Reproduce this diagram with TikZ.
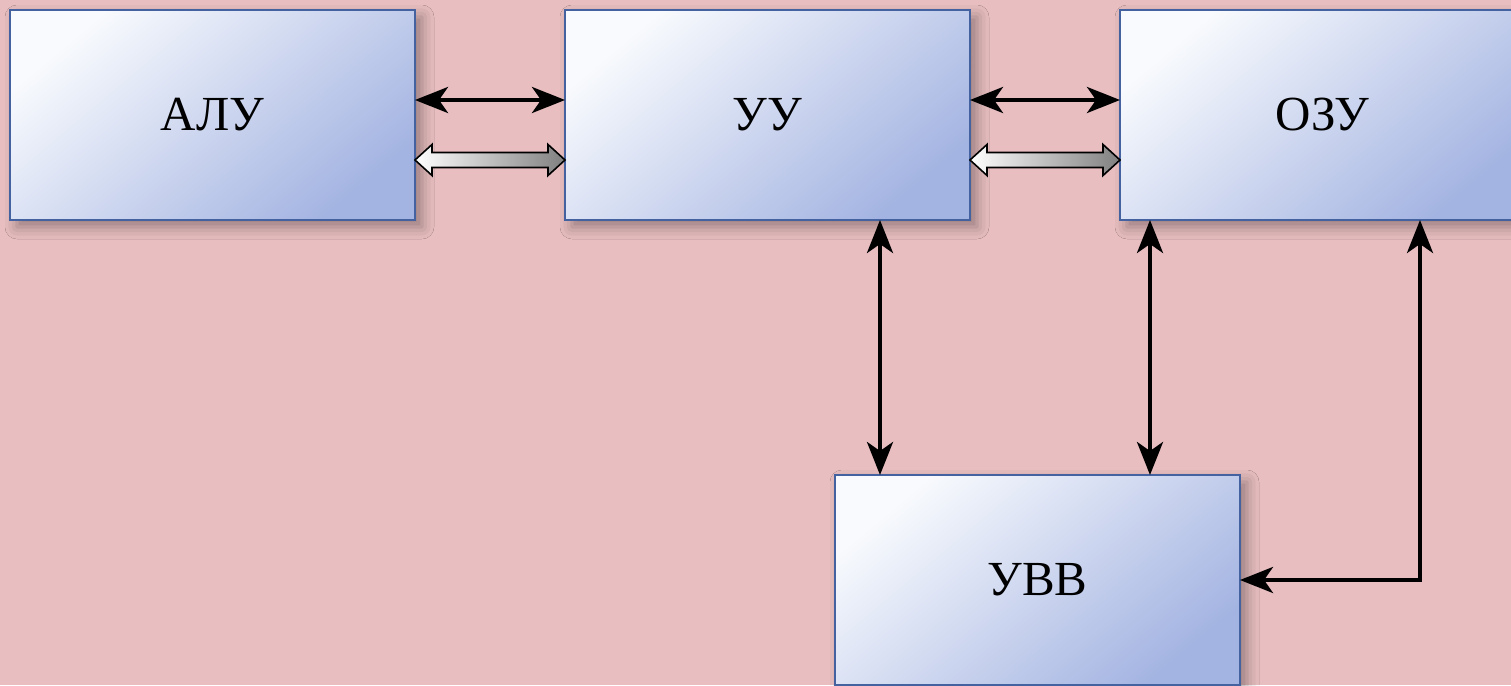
\documentclass[tikz,border=0pt]{standalone}
\usepackage{fontspec}
\setmainfont{Liberation Serif}
\usetikzlibrary{arrows.meta,calc,shadows.blur}
\definecolor{paper}{RGB}{232,190,192}
\definecolor{boxlight}{RGB}{248,250,253}
\definecolor{boxdark}{RGB}{164,180,226}
\definecolor{boxline}{RGB}{68,98,160}
\newcommand\busarrow[2]{%
  \path[bus] let \p1=(#1), \p2=(#2) in
    (\x1,\y1) -- (\x1+17pt,\y1+15.5pt) -- (\x1+17pt,\y1+7.5pt) -- (\x2-17pt,\y1+7.5pt)
    -- (\x2-17pt,\y1+15.5pt) -- (\x2,\y1) -- (\x2-17pt,\y1-15.5pt) -- (\x2-17pt,\y1-7.5pt)
    -- (\x1+17pt,\y1-7.5pt) -- (\x1+17pt,\y1-15.5pt) -- cycle;}

\begin{document}
\begin{tikzpicture}[x=1pt,y=-1pt,
    box/.style={draw=boxline, line width=1.5pt, minimum width=405pt, minimum height=210pt,
      inner sep=0pt, outer sep=0pt, top color=boxlight, bottom color=boxdark, shading angle=40,
      blur shadow={shadow xshift=7pt, shadow yshift=-7pt, shadow blur radius=12pt, shadow opacity=35},
      font=\fontsize{49}{58}\selectfont},
    link/.style={line width=4pt,
      {Stealth[length=33pt,width=26pt,inset=9pt]}-{Stealth[length=33pt,width=26pt,inset=9pt]}},
    bus/.style={draw=black, line width=1.6pt, left color=white, right color=black!50}]
  \fill[paper] (0,0) rectangle (1511,685);
  \useasboundingbox (0,0) rectangle (1511,685);
  \node[box] (alu) at (212.5,115) {АЛУ};
  \node[box] (uu)  at (767.5,115) {УУ};
  \node[box] (ram) at (1322.5,115) {ОЗУ};
  \node[box] (io)  at (1037.5,580) {УВВ};
  \path[link]
    ([yshift=15pt]alu.east) edge ([yshift=15pt]uu.west)
    ([yshift=15pt]uu.east) edge ([yshift=15pt]ram.west)
    ([xshift=112.5pt]uu.south) edge ([xshift=112.5pt]uu.south |- io.north)
    ([xshift=-172.5pt]ram.south) edge ([xshift=-172.5pt]ram.south |- io.north);
  \draw[link] ([xshift=97.5pt]ram.south) |- (io.east);
  % wide buses
  \busarrow{[yshift=-45pt]alu.east}{[yshift=-45pt]uu.west}
  \busarrow{[yshift=-45pt]uu.east}{[yshift=-45pt]ram.west}
\end{tikzpicture}
\end{document}
